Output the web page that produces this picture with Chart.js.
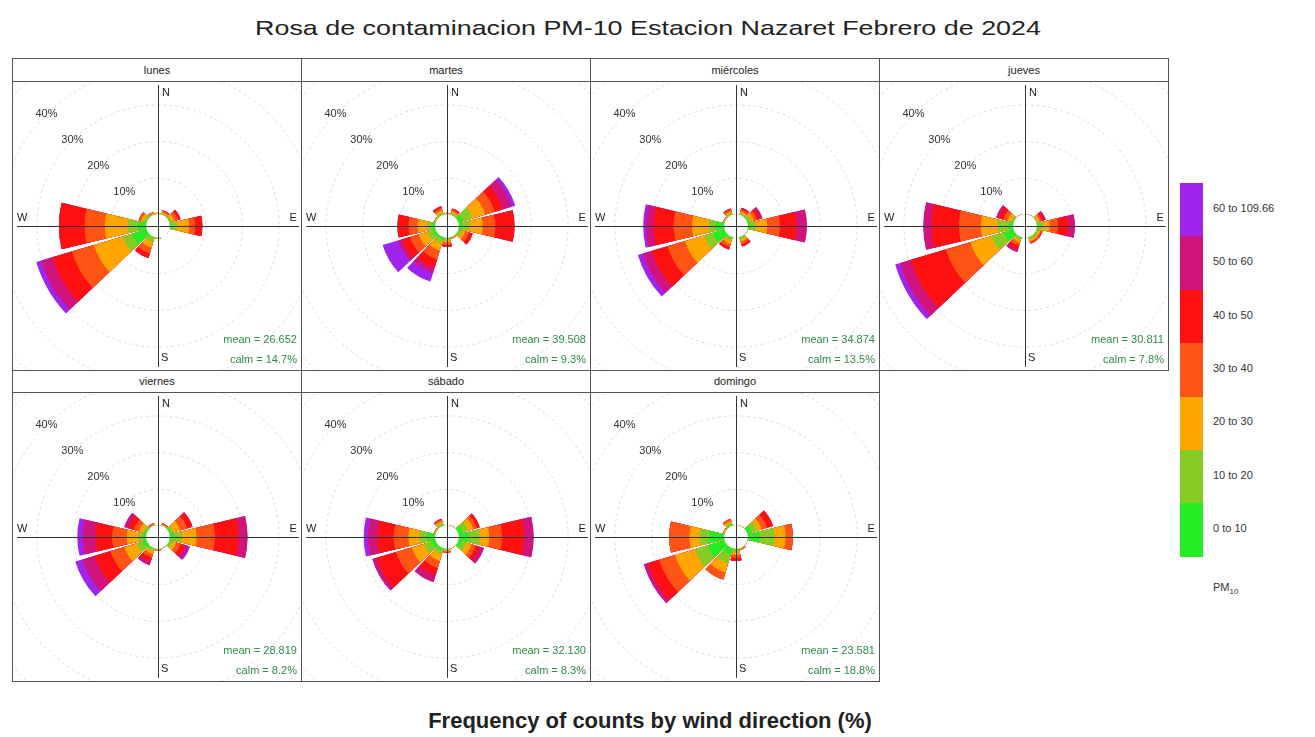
<!DOCTYPE html>
<html>
<head>
<meta charset="utf-8">
<script src="https://cdn.jsdelivr.net/npm/chart.js@4.4.1/dist/chart.umd.min.js"></script>
<style>
body{margin:0;background:#fff;font-family:"Liberation Sans",Arial,sans-serif;color:#222}
#page{position:relative;width:1315px;height:737px;overflow:hidden}
#title{position:absolute;left:0;width:1296px;top:16px;text-align:center;font-size:21px;transform:scaleX(1.28);transform-origin:648px 0}
#footer{position:absolute;left:0;width:1300px;top:708px;text-align:center;font-size:22px;font-weight:bold}
.strip{position:absolute;border:1px solid #555;box-sizing:border-box;text-align:center;font-size:11px;background:#fff}
.panel{position:absolute;border:1px solid #555;box-sizing:border-box;overflow:hidden;background:#fff}
.panel canvas{position:absolute;left:-55px;top:-56px}
.key{position:absolute;left:1180px;width:23px}
.keylab{position:absolute;left:1213px;font-size:11px;color:#333;line-height:14px}
</style>
</head>
<body>
<div id="page">
  <div id="title">Rosa de contaminacion PM-10 Estacion Nazaret Febrero de 2024</div>
  <div id="footer">Frequency of counts by wind direction (%)</div>
</div>
<script>
// wind sectors (degrees) and PM10 bins
const directions = [0, 30, 60, 90, 120, 150, 180, 210, 240, 270, 300, 330];
const bins = ['0 to 10', '10 to 20', '20 to 30', '30 to 40', '40 to 50', '50 to 60', '60 to 109.66'];
const binColors = ['#22ee22', '#86cc24', '#ffa600', '#ff5414', '#ff1010', '#d0147c', '#a024ee'];
const days = ['lunes', 'martes', 'miércoles', 'jueves', 'viernes', 'sábado', 'domingo'];
const means = [26.652, 39.508, 34.874, 30.811, 28.819, 32.130, 23.581];
const calms = [14.7, 9.3, 13.5, 7.8, 8.2, 8.3, 18.8];
const ringTicks = [10, 20, 30, 40, 50];
const ringLabels = [10, 20, 30, 40];

// frequency (%) per sector, columns follow bins
const lunes = [
  [0.2, 0.2, 0.2, 0, 0, 0, 0],
  [0.2, 0.3, 0.4, 0.4, 0.2, 0, 0],
  [0.3, 0.6, 0.8, 1.0, 0.7, 0, 0],
  [0.8, 1.5, 3.2, 1.6, 2.0, 0, 0],
  [0.1, 0.1, 0, 0, 0, 0, 0],
  [0, 0, 0, 0, 0, 0, 0],
  [0.2, 0.2, 0.1, 0, 0, 0, 0],
  [0.5, 1.2, 1.5, 1.6, 1.3, 0, 0],
  [4.3, 2.7, 8.2, 6.3, 5.5, 3.2, 1.4],
  [2.5, 2.7, 6.3, 5.5, 7.0, 0, 0],
  [0.5, 0.6, 0.8, 0.5, 0.1, 0, 0],
  [0.2, 0.3, 0.3, 0.2, 0, 0, 0]
];
const martes = [
  [0.1, 0.2, 0.2, 0.1, 0, 0, 0],
  [0.3, 0.4, 0.5, 0.5, 0.3, 0, 0],
  [1.5, 2.8, 3.6, 2.7, 2.3, 2.5, 1.0],
  [1.2, 2.0, 3.5, 3.5, 5.2, 0, 0],
  [0.5, 0.7, 1.0, 1.1, 1.0, 0, 0],
  [0.2, 0.2, 0.2, 0.1, 0, 0, 0],
  [0.4, 0.5, 0.6, 0.7, 0.5, 0, 0],
  [0.8, 1.2, 2.0, 2.5, 2.3, 1.5, 2.5],
  [1.0, 1.5, 2.5, 2.5, 2.3, 1.0, 4.5],
  [1.0, 1.5, 2.5, 2.5, 3.0, 0, 0],
  [0.2, 0.2, 0.2, 0.1, 0, 0, 0],
  [0.4, 0.5, 0.6, 0.6, 0.5, 0, 0]
];
const miercoles = [
  [0.1, 0.1, 0.1, 0, 0, 0, 0],
  [0.3, 0.4, 0.5, 0.5, 0.5, 0, 0],
  [0.5, 0.7, 0.9, 0.9, 0.8, 0.7, 0],
  [1.0, 1.5, 3.0, 3.5, 4.5, 2.8, 0],
  [0.1, 0.1, 0.1, 0, 0, 0, 0],
  [0.4, 0.5, 0.6, 0.7, 0.6, 0, 0],
  [0.1, 0.1, 0.1, 0, 0, 0, 0],
  [0.5, 0.7, 0.9, 0.9, 0.7, 0, 0],
  [3.5, 2.5, 5.5, 5.0, 4.5, 2.5, 1.4],
  [2.5, 2.0, 4.5, 5.0, 5.5, 2.0, 0.8],
  [0.2, 0.2, 0.2, 0.1, 0, 0, 0],
  [0.3, 0.4, 0.5, 0.5, 0.3, 0, 0]
];
const jueves = [
  [0.1, 0.1, 0.1, 0, 0, 0, 0],
  [0.1, 0.1, 0.1, 0, 0, 0, 0],
  [0.3, 0.4, 0.5, 0.6, 0.6, 0.5, 0],
  [0.8, 1.2, 1.8, 2.2, 2.8, 1.8, 0],
  [0.4, 0.5, 0.5, 0.4, 0.2, 0, 0],
  [0.4, 0.5, 0.5, 0.4, 0.2, 0, 0],
  [0.1, 0.1, 0.1, 0, 0, 0, 0],
  [0.4, 0.6, 0.8, 0.9, 0.9, 0.8, 0],
  [3.0, 3.5, 6.0, 7.0, 10.0, 3.0, 1.4],
  [1.5, 3.0, 4.5, 6.0, 7.5, 2.2, 0],
  [0.4, 0.6, 1.0, 1.2, 1.3, 0.7, 0],
  [0.1, 0.1, 0.1, 0, 0, 0, 0]
];
const viernes = [
  [0.1, 0.1, 0.1, 0, 0, 0, 0],
  [0.2, 0.2, 0.2, 0.2, 0.1, 0, 0],
  [0.6, 0.9, 1.8, 2.0, 1.5, 0, 0],
  [1.5, 2.0, 4.0, 5.0, 6.5, 2.4, 0],
  [0.5, 0.7, 1.0, 1.2, 1.2, 1.0, 0.5],
  [0.1, 0.1, 0.1, 0, 0, 0, 0],
  [0.2, 0.2, 0.2, 0.1, 0, 0, 0],
  [0.4, 0.6, 0.9, 1.0, 1.1, 1.0, 0],
  [1.2, 1.8, 3.5, 4.0, 4.5, 3.5, 2.0],
  [1.0, 1.5, 3.0, 4.0, 4.5, 3.5, 1.5],
  [0.5, 0.7, 1.2, 1.5, 1.6, 1.1, 0],
  [0.2, 0.2, 0.2, 0.2, 0.1, 0, 0]
];
const sabado = [
  [0.1, 0.1, 0.1, 0, 0, 0, 0],
  [0.1, 0.1, 0.1, 0, 0, 0, 0],
  [1.5, 1.5, 1.5, 1.0, 0.8, 0, 0],
  [3.0, 3.0, 2.5, 3.5, 6.0, 2.6, 0],
  [1.2, 1.3, 1.5, 1.2, 1.0, 1.3, 0],
  [0.1, 0.1, 0.1, 0, 0, 0, 0],
  [0.3, 0.3, 0.3, 0.2, 0.2, 0, 0],
  [0.8, 1.2, 1.8, 2.0, 2.0, 2.0, 0],
  [1.5, 2.0, 3.5, 4.5, 5.5, 1.2, 0],
  [2.5, 2.0, 3.0, 4.0, 4.5, 2.5, 1.2],
  [0.2, 0.2, 0.2, 0.1, 0, 0, 0],
  [0.4, 0.5, 0.6, 0.5, 0.2, 0, 0]
];
const domingo = [
  [0.1, 0.1, 0.1, 0, 0, 0, 0],
  [0.1, 0.1, 0.1, 0, 0, 0, 0],
  [1.5, 1.5, 1.3, 1.5, 1.7, 0, 0],
  [3.5, 4.0, 3.0, 2.0, 0, 0, 0],
  [0.1, 0.1, 0.1, 0, 0, 0, 0],
  [0.2, 0.2, 0.2, 0.2, 0, 0, 0],
  [0.5, 0.6, 0.8, 0.8, 0.8, 0, 0],
  [2.0, 2.5, 2.6, 2.0, 0, 0, 0],
  [5.0, 3.7, 5.6, 4.5, 3.2, 1.2, 0],
  [4.3, 2.7, 2.7, 5.5, 0, 0, 0],
  [0.2, 0.2, 0.2, 0.1, 0, 0, 0],
  [0.5, 0.5, 0.6, 0.6, 0, 0, 0]
];
const dayData = [lunes, martes, miercoles, jueves, viernes, sabado, domingo];

const sector = 30, seg = 0.9;      // 30 degree sectors, petal covers 90%
const holeOffset = 3;              // hole in the middle, in % units
const axisReach = 35.4;

const page = document.getElementById('page');
const colLeft = [12, 301, 590, 879];
const rows = [{strip: 58, h: 24, panel: 81}, {strip: 370, h: 23, panel: 392}];

// stacked petals: each dataset is the running total up to that bin,
// innermost bin is dataset 0 so it gets drawn last (on top)
function roseDatasets(freq) {
  return bins.map((b, k) => {
    const data = [];
    freq.forEach(row => {
      let cum = 0;
      for (let j = 0; j <= k; j++) cum += row[j];
      data.push(cum, 0);
    });
    return {
      label: b,
      data: data,
      backgroundColor: data.map((v, i) => i % 2 ? 'rgba(0,0,0,0)' : binColors[k]),
      borderWidth: 0,
      angle: c => c.dataIndex % 2 ? sector * (1 - seg) : sector * seg
    };
  });
}

const roseDecor = {
  id: 'roseDecor',
  beforeDatasetsDraw(chart) {
    const s = chart.scales.r, ctx = chart.ctx;
    ctx.save();
    ctx.font = '11px "Liberation Sans", Arial, sans-serif';
    ctx.fillStyle = '#333';
    ctx.textAlign = 'center';
    ctx.textBaseline = 'middle';
    ringLabels.forEach(v => {
      const r = s.getDistanceFromCenterForValue(v);
      ctx.fillText(v + '%', s.xCenter - r * Math.SQRT1_2, s.yCenter - r * Math.SQRT1_2);
    });
    ctx.restore();
  },
  afterDatasetsDraw(chart) {
    const s = chart.scales.r, ctx = chart.ctx;
    const cx = s.xCenter, cy = s.yCenter;
    const i = chart.options.dayIndex;
    ctx.save();
    ctx.fillStyle = '#fff';
    ctx.beginPath();
    ctx.arc(cx, cy, s.getDistanceFromCenterForValue(0) + 0.8, 0, Math.PI * 2);
    ctx.fill();
    const L = s.getDistanceFromCenterForValue(axisReach);
    ctx.strokeStyle = '#333';
    ctx.lineWidth = 1;
    ctx.beginPath();
    ctx.moveTo(cx - L, cy + 0.5); ctx.lineTo(cx + L, cy + 0.5);
    ctx.moveTo(cx + 0.5, cy - L); ctx.lineTo(cx + 0.5, cy + L);
    ctx.stroke();
    ctx.font = '11px "Liberation Sans", Arial, sans-serif';
    ctx.fillStyle = '#222';
    ctx.textBaseline = 'middle';
    ctx.textAlign = 'left';
    ctx.fillText('N', cx + 4, cy - L + 8);
    ctx.fillText('S', cx + 3, cy + L - 9);
    ctx.fillText('W', cx - L, cy - 8);
    ctx.textAlign = 'right';
    ctx.fillText('E', cx + L - 2, cy - 8);
    ctx.fillStyle = '#2f8a4a';
    ctx.fillText('mean = ' + means[i].toFixed(3), cx + L - 2, cy + 114);
    ctx.fillText('calm = ' + calms[i].toFixed(1) + '%', cx + L - 2, cy + 134);
    ctx.restore();
  }
};

days.forEach((day, i) => {
  const row = rows[i < 4 ? 0 : 1];
  const left = colLeft[i % 4];
  const strip = document.createElement('div');
  strip.className = 'strip';
  strip.style.cssText = `left:${left}px;top:${row.strip}px;width:290px;height:${row.h}px;line-height:${row.h - 2}px`;
  strip.textContent = day;
  page.appendChild(strip);
  const panel = document.createElement('div');
  panel.className = 'panel';
  panel.style.cssText = `left:${left}px;top:${row.panel}px;width:290px;height:290px`;
  const cv = document.createElement('canvas');
  cv.width = 400; cv.height = 400;
  panel.appendChild(cv);
  page.appendChild(panel);

  const labels = [];
  directions.forEach(d => labels.push(d + '°', ''));
  new Chart(cv, {
    type: 'polarArea',
    data: {labels: labels, datasets: roseDatasets(dayData[i])},
    options: {
      dayIndex: i,
      responsive: false,
      animation: false,
      devicePixelRatio: 1,
      layout: {padding: 0},
      plugins: {legend: {display: false}, tooltip: {enabled: false}},
      scales: {
        r: {
          min: -holeOffset,
          max: 51.5,
          startAngle: -sector * seg / 2,
          ticks: {display: false},
          afterBuildTicks: sc => { sc.ticks = ringTicks.map(v => ({value: v})); },
          grid: {circular: true, color: '#dcdcdc', lineWidth: 1},
          border: {dash: [3, 3]},
          angleLines: {display: false},
          pointLabels: {display: false}
        }
      }
    },
    plugins: [roseDecor]
  });
});

// colour key
const keyTop = 183, keyH = 53.4;
bins.slice().reverse().forEach((b, j) => {
  const blk = document.createElement('div');
  blk.className = 'key';
  blk.style.cssText = `top:${keyTop + j * keyH}px;height:${keyH + 0.5}px;background:${binColors[bins.length - 1 - j]}`;
  page.appendChild(blk);
  const lab = document.createElement('div');
  lab.className = 'keylab';
  lab.style.top = (keyTop + j * keyH + keyH / 2 - 9) + 'px';
  lab.textContent = b;
  page.appendChild(lab);
});
const pm = document.createElement('div');
pm.className = 'keylab';
pm.style.top = '580px';
pm.innerHTML = 'PM<sub style="font-size:8px">10</sub>';
page.appendChild(pm);
</script>
</body>
</html>
